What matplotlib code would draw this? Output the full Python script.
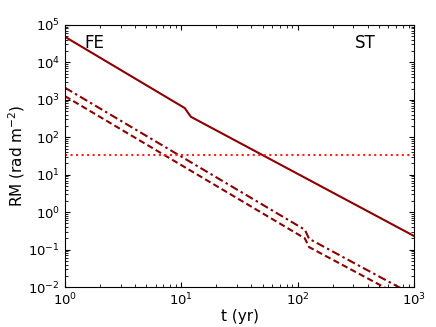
import matplotlib
matplotlib.use("Agg")
import matplotlib.pyplot as plt
import numpy as np

t_solid = [1, 10.7, 11.4, 12.1, 1000]
rm_solid = [4.8e4, 600, 450, 350, 0.23]
t_dashdot = [1, 115, 125, 1000]
rm_dashdot = [2100, 0.34, 0.195, 0.006]
t_dashed = [1, 115, 125, 1000]
rm_dashed = [1250, 0.20, 0.117, 0.0037]
rm_threshold = 34

fig = plt.figure(figsize=(4.36, 3.27), dpi=100)
ax = fig.add_axes([0.149, 0.122, 0.801, 0.802])
col = '#8b0000'
ax.plot(t_solid, rm_solid, '-', color=col, lw=1.5)
ax.plot(t_dashdot, rm_dashdot, '-.', color=col, lw=1.5, dashes=(4, 1.6, 1.2, 1.6))
ax.plot(t_dashed, rm_dashed, '--', color=col, lw=1.5, dashes=(3, 1.6))
ax.axhline(rm_threshold, color='#ff2020', ls=':', lw=1.5)
ax.set_xscale('log')
ax.set_yscale('log')
ax.set_xlim(1, 1000)
ax.set_ylim(1e-2, 1e5)
ax.set_xlabel('t (yr)', fontsize=11, labelpad=1)
ax.set_ylabel('RM (rad m$^{-2}$)', fontsize=11, labelpad=1)
ax.tick_params(which='both', direction='in', top=True, right=True, labelsize=9.5)
ax.tick_params(axis='x', pad=3)
ax.text(0.055, 0.91, 'FE', transform=ax.transAxes, fontsize=12)
ax.text(0.83, 0.91, 'ST', transform=ax.transAxes, fontsize=12)
fig.savefig('out.png', dpi=100)
